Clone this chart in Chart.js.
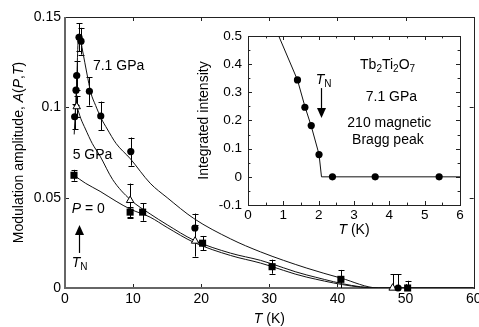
<!DOCTYPE html>
<html><head><meta charset="utf-8">
<script src="https://cdn.jsdelivr.net/npm/chart.js@4.4.1/dist/chart.umd.min.js"></script>
<style>
html,body{margin:0;padding:0;background:#fff;overflow:hidden}
#wrap{position:relative;width:479px;height:327px}
#main{position:absolute;left:0;top:0}
#inset{position:absolute;left:190px;top:28px}
</style></head><body>
<div id="wrap"><canvas id="main" width="479" height="327"></canvas><canvas id="inset" width="280" height="212"></canvas></div>
<script>
// ---------- main panel data ----------
const t71 = [1.42, 1.62, 1.72, 2.06, 2.35, 3.58, 5.25, 9.66, 19.07, 48.9];
const a71 = [0.0948, 0.1095, 0.1176, 0.1388, 0.1366, 0.1089, 0.0952, 0.0755, 0.0332, 0];
const e71 = [0.007, 0.008, 0.008, 0.0077, 0.0074, 0.0079, 0.008, 0.0078, 0.008, 0.0076];
const t5 = [1.72, 9.56, 19.1, 48.1];
const a5 = [0.1004, 0.0485, 0.026, 0];
const e5 = [0.006, 0.0093, 0.0086, 0.0076];
const t0 = [1.32, 9.56, 11.4, 20.2, 30.4, 40.5, 50.3];
const a0 = [0.0624, 0.042, 0.042, 0.0248, 0.0118, 0.0048, 0];
const e0 = [0.003, 0.003, 0.0048, 0.004, 0.0039, 0.0052, 0.004];
// fitted curves
const fit71T = [1.35, 1.7, 2.0, 2.2, 2.6, 3.2, 3.8, 4.5, 5.3, 6.2, 7.5, 9.6, 12.5, 15, 18.9, 24.3, 28.7, 35.5, 40.5, 46, 60];
const fit71A = [0.085, 0.113, 0.1405, 0.139, 0.131, 0.119, 0.108, 0.101, 0.094, 0.088, 0.080, 0.0715, 0.058, 0.050, 0.0385, 0.0272, 0.020, 0.011, 0.0055, 0, 0];
const fit5T = [1.7, 2.3, 3, 4, 5.15, 7, 9.56, 12.5, 15, 18.9, 24.3, 28.7, 35.5, 46, 60];
const fit5A = [0.101, 0.094, 0.088, 0.080, 0.073, 0.060, 0.049, 0.041, 0.035, 0.0265, 0.0193, 0.0153, 0.0072, 0, 0];
const fit0T = [1.32, 3, 5.15, 7.5, 9.56, 12.5, 15, 18.9, 24.3, 28.7, 35.5, 46, 60];
const fit0A = [0.0624, 0.058, 0.0535, 0.048, 0.0437, 0.0392, 0.0335, 0.0253, 0.018, 0.0138, 0.006, 0, 0];
const xTicks = [0, 10, 20, 30, 40, 50, 60];
const xTickLabels = ['0', '10', '20', '30', '40', '50', '60'];
const yTicks = [0, 0.05, 0.1, 0.15];
const yTickLabels = ['0', '0.05', '0.1', '0.15'];
// ---------- inset data ----------
const insT = [1.40, 1.61, 1.79, 2.01, 2.39, 3.60, 5.41];
const insI = [0.344, 0.247, 0.182, 0.079, 0, 0, 0];
const insFitT = [0.87, 1.4, 1.61, 1.79, 2.01, 2.08, 6];
const insFitI = [0.5, 0.344, 0.25, 0.18, 0.08, 0, 0];
const insXTicks = [0, 1, 2, 3, 4, 5, 6];
const insXTickLabels = ['0', '1', '2', '3', '4', '5', '6'];
const insYTicks = [-0.1, 0, 0.1, 0.2, 0.3, 0.4, 0.5];
const insYTickLabels = ['-0.1', '0', '0.1', '0.2', '0.3', '0.4', '0.5'];

const FF = "'Liberation Sans', Arial, Helvetica, sans-serif";
const pts = (xs, ys) => xs.map((x, i) => ({x: x, y: ys[i]}));

function rich(ctx, segs, x, y, size, align, rot) {
  ctx.save(); ctx.translate(x, y); if (rot) ctx.rotate(rot);
  ctx.textBaseline = 'middle'; ctx.fillStyle = '#000'; ctx.textAlign = 'left';
  const f = s => (s[1] === 'i' ? 'italic ' : '') + (s[1] === 's' ? Math.round(size * 0.72) : size) + 'px ' + FF;
  let w = 0;
  for (const s of segs) { ctx.font = f(s); w += ctx.measureText(s[0]).width; }
  let cx = align === 'center' ? -w / 2 : (align === 'right' ? -w : 0);
  for (const s of segs) {
    ctx.font = f(s);
    ctx.fillText(s[0], cx, s[1] === 's' ? size * 0.32 : 0);
    cx += ctx.measureText(s[0]).width;
  }
  ctx.restore();
}
function arrow(ctx, x, y0, y1) { // from y0 to tip y1
  const dir = y1 < y0 ? -1 : 1;
  ctx.save(); ctx.strokeStyle = '#000'; ctx.fillStyle = '#000'; ctx.lineWidth = 1.2;
  ctx.beginPath(); ctx.moveTo(x, y0); ctx.lineTo(x, y1 - dir * 8); ctx.stroke();
  ctx.beginPath(); ctx.moveTo(x, y1); ctx.lineTo(x - 4.5, y1 - dir * 10); ctx.lineTo(x + 4.5, y1 - dir * 10); ctx.closePath(); ctx.fill();
  ctx.restore();
}
function frameAndTicks(chart, xt, yt, xMinor, yMinor, len) {
  const ctx = chart.ctx, a = chart.chartArea, xs = chart.scales.x, ys = chart.scales.y;
  ctx.save();
  ctx.strokeStyle = '#222'; ctx.lineWidth = 1;
  ctx.beginPath();
  const tick = (v, major, horiz) => {
    const L = major ? len : len * 0.6;
    if (horiz) { const p = Math.round(xs.getPixelForValue(v)) + 0.5; ctx.moveTo(p, a.bottom); ctx.lineTo(p, a.bottom - L); ctx.moveTo(p, a.top); ctx.lineTo(p, a.top + L); }
    else { const p = Math.round(ys.getPixelForValue(v)) + 0.5; ctx.moveTo(a.left, p); ctx.lineTo(a.left + L, p); ctx.moveTo(a.right, p); ctx.lineTo(a.right - L, p); }
  };
  xt.forEach(v => tick(v, true, true)); yt.forEach(v => tick(v, true, false));
  xMinor.forEach(v => tick(v, false, true)); yMinor.forEach(v => tick(v, false, false));
  ctx.stroke();
  ctx.strokeRect(Math.round(a.left) + 0.5, Math.round(a.top) + 0.5, Math.round(a.right - a.left), Math.round(a.bottom - a.top));
  ctx.restore();
}

const mainPlugin = {
  id: 'mainDeco',
  beforeDatasetsDraw(chart) {
    const ctx = chart.ctx, a = chart.chartArea, xs = chart.scales.x, ys = chart.scales.y;
    frameAndTicks(chart, xTicks, yTicks, [], [], 4);
    ctx.save(); ctx.strokeStyle = '#666'; ctx.lineWidth = 2;
    ctx.beginPath(); ctx.moveTo(a.left, a.top); ctx.lineTo(a.left, a.bottom); ctx.lineTo(a.right, a.bottom); ctx.stroke();
    // error bars
    ctx.strokeStyle = '#000'; ctx.lineWidth = 1;
    const sets = [[t71, a71, e71], [t5, a5, e5], [t0, a0, e0]];
    ctx.beginPath();
    for (const [ts, as, es] of sets) {
      ts.forEach((t, i) => {
        const x = Math.round(xs.getPixelForValue(t)) + 0.5;
        const yt = ys.getPixelForValue(as[i] + es[i]);
        const ybv = as[i] - es[i];
        ctx.moveTo(x, yt); ctx.lineTo(x, ys.getPixelForValue(Math.max(ybv, 0)));
        ctx.moveTo(x - 3, Math.round(yt) + 0.5); ctx.lineTo(x + 3, Math.round(yt) + 0.5);
        if (ybv > 0) { const yb = Math.round(ys.getPixelForValue(ybv)) + 0.5; ctx.moveTo(x - 3, yb); ctx.lineTo(x + 3, yb); }
      });
    }
    ctx.stroke();
    ctx.restore();
  },
  afterDraw(chart) {
    const ctx = chart.ctx, xs = chart.scales.x, ys = chart.scales.y, a = chart.chartArea;
    const X = v => xs.getPixelForValue(v), Y = v => ys.getPixelForValue(v);
    rich(ctx, [['7.1 GPa', 'n']], X(4.1), Y(0.123), 14, 'left');
    rich(ctx, [['5 GPa', 'n']], X(1.13), Y(0.0736), 14, 'left');
    rich(ctx, [['P', 'i'], [' = 0', 'n']], X(0.98), Y(0.0436), 14, 'left');
    rich(ctx, [['T', 'i'], ['N', 's']], X(2.15), Y(0.0137), 14, 'center');
    arrow(ctx, Math.round(X(2.1)) + 0.5, Y(0.0194), Y(0.0349));
    rich(ctx, [['Modulation amplitude, ', 'n'], ['A', 'i'], ['(', 'n'], ['P', 'i'], [',', 'n'], ['T', 'i'], [')', 'n']], 19, (a.top + a.bottom) / 2, 14, 'center', -Math.PI / 2);
    rich(ctx, [['T', 'i'], [' (K)', 'n']], (a.left + a.right) / 2, 319, 14, 'center');
  }
};

const tickFont = {family: FF, size: 14};
new Chart(document.getElementById('main'), {
  type: 'line',
  data: {
    datasets: [
      {data: pts(t71, a71), showLine: false, pointStyle: 'circle', pointRadius: 3.6, pointBackgroundColor: '#000', pointBorderColor: '#000', pointBorderWidth: 0, order: 0, clip: false},
      {data: pts(t5, a5), showLine: false, pointStyle: 'triangle', pointRadius: 4.3, pointBackgroundColor: '#fff', pointBorderColor: '#000', pointBorderWidth: 1, order: 0, clip: false},
      {data: pts(t0, a0), showLine: false, pointStyle: 'rect', pointRadius: 5, pointBackgroundColor: '#000', pointBorderColor: '#000', pointBorderWidth: 0, order: 0, clip: false},
      {data: pts(fit71T, fit71A), borderColor: '#111', borderWidth: 1, pointRadius: 0, cubicInterpolationMode: 'monotone', order: 1},
      {data: pts(fit5T, fit5A), borderColor: '#111', borderWidth: 1, pointRadius: 0, cubicInterpolationMode: 'monotone', order: 1},
      {data: pts(fit0T, fit0A), borderColor: '#111', borderWidth: 1, pointRadius: 0, cubicInterpolationMode: 'monotone', order: 1}
    ]
  },
  options: {
    responsive: false, animation: false, events: [],
    layout: {padding: {top: 17, right: 5, left: 0, bottom: 0}},
    plugins: {legend: {display: false}, tooltip: {enabled: false}},
    scales: {
      x: {type: 'linear', min: 0, max: 60,
        afterBuildTicks: s => { s.ticks = xTicks.map(v => ({value: v})); },
        afterFit: s => { s.height = 39; s.paddingLeft = 0; s.paddingRight = 0; },
        grid: {display: false, drawTicks: false, tickLength: 0}, border: {display: false},
        ticks: {font: tickFont, color: '#000', padding: 3, maxRotation: 0, autoSkip: false,
          callback: (v) => xTickLabels[xTicks.indexOf(v)]}},
      y: {type: 'linear', min: 0, max: 0.15,
        afterBuildTicks: s => { s.ticks = yTicks.map(v => ({value: v})); },
        afterFit: s => { s.width = 65; s.paddingTop = 0; s.paddingBottom = 0; },
        grid: {display: false, drawTicks: false, tickLength: 0}, border: {display: false},
        ticks: {font: tickFont, color: '#000', padding: 4, autoSkip: false,
          callback: (v) => yTickLabels[yTicks.indexOf(v)]}}
    }
  },
  plugins: [mainPlugin]
});

// ---------- inset ----------
const insetPlugin = {
  id: 'insetDeco',
  beforeDraw(chart) {
    const ctx = chart.ctx, a = chart.chartArea;
    ctx.save(); ctx.fillStyle = '#fff'; ctx.fillRect(a.left, a.top, a.right - a.left, a.bottom - a.top); ctx.restore();
  },
  beforeDatasetsDraw(chart) {
    const xm = [0.5, 1.5, 2.5, 3.5, 4.5, 5.5];
    const ym = [-0.05, 0.05, 0.15, 0.25, 0.35, 0.45];
    frameAndTicks(chart, insXTicks, insYTicks, xm, ym, 4);
  },
  afterDraw(chart) {
    const ctx = chart.ctx, xs = chart.scales.x, ys = chart.scales.y, a = chart.chartArea;
    const X = v => xs.getPixelForValue(v), Y = v => ys.getPixelForValue(v);
    rich(ctx, [['Tb', 'n'], ['2', 's'], ['Ti', 'n'], ['2', 's'], ['O', 'n'], ['7', 's']], X(3.95), Y(0.397), 14, 'center');
    rich(ctx, [['7.1 GPa', 'n']], X(4.06), Y(0.284), 14, 'center');
    rich(ctx, [['210 magnetic', 'n']], X(4.0), Y(0.191), 14, 'center');
    rich(ctx, [['Bragg peak', 'n']], X(3.96), Y(0.131), 14, 'center');
    rich(ctx, [['T', 'i'], ['N', 's']], X(2.14), Y(0.345), 14, 'center');
    arrow(ctx, Math.round(X(2.07)) + 0.5, Y(0.315), Y(0.209));
    rich(ctx, [['Integrated intensity', 'n']], 14, (a.top + a.bottom) / 2, 14, 'center', -Math.PI / 2);
    rich(ctx, [['T', 'i'], [' (K)', 'n']], (a.left + a.right) / 2, 202, 14, 'center');
  }
};
const insFont = {family: FF, size: 13.5};
new Chart(document.getElementById('inset'), {
  type: 'line',
  data: {
    datasets: [
      {data: pts(insT, insI), showLine: false, pointStyle: 'circle', pointRadius: 3.6, pointBackgroundColor: '#000', pointBorderColor: '#000', pointBorderWidth: 0, order: 0, clip: false},
      {data: pts(insFitT, insFitI), borderColor: '#111', borderWidth: 1, pointRadius: 0, tension: 0, order: 1}
    ]
  },
  options: {
    responsive: false, animation: false, events: [],
    layout: {padding: {top: 8, right: 10, left: 0, bottom: 0}},
    plugins: {legend: {display: false}, tooltip: {enabled: false}},
    scales: {
      x: {type: 'linear', min: 0, max: 6,
        afterBuildTicks: s => { s.ticks = insXTicks.map(v => ({value: v})); },
        afterFit: s => { s.height = 35; s.paddingLeft = 0; s.paddingRight = 0; },
        grid: {display: false, drawTicks: false, tickLength: 0}, border: {display: false},
        ticks: {font: insFont, color: '#000', padding: 2, maxRotation: 0, autoSkip: false,
          callback: (v) => insXTickLabels[insXTicks.indexOf(v)]}},
      y: {type: 'linear', min: -0.1, max: 0.5,
        afterBuildTicks: s => { s.ticks = insYTicks.map(v => ({value: v})); },
        afterFit: s => { s.width = 58; s.paddingTop = 0; s.paddingBottom = 0; },
        grid: {display: false, drawTicks: false, tickLength: 0}, border: {display: false},
        ticks: {font: insFont, color: '#000', padding: 6, autoSkip: false,
          callback: (v) => insYTickLabels[insYTicks.indexOf(v)]}}
    }
  },
  plugins: [insetPlugin]
});
</script>
</body></html>
